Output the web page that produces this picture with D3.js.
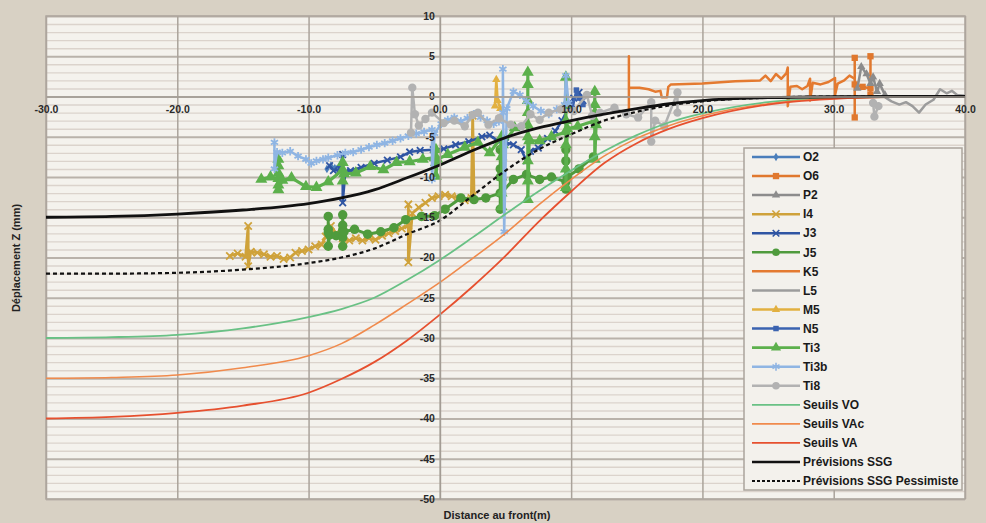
<!DOCTYPE html>
<html><head><meta charset="utf-8">
<script src="https://cdn.jsdelivr.net/npm/d3@7"></script>
<style>
html,body{margin:0;padding:0;background:#d8d1c4;}
svg{display:block;font-family:"Liberation Sans",Arial,sans-serif;}
</style></head><body>
<svg id="chart" width="986" height="523"></svg>
<script>
// ---- axis ticks ----
const xTicks = [-30, -20, -10, 0, 10, 20, 30, 40];
const yTicks = [10, 5, 0, -5, -10, -15, -20, -25, -30, -35, -40, -45, -50];
const yMinorTicks = [9,8,7,6,4,3,2,1,-1,-2,-3,-4,-6,-7,-8,-9,-11,-12,-13,-14,-16,-17,-18,-19,-21,-22,-23,-24,-26,-27,-28,-29,-31,-32,-33,-34,-36,-37,-38,-39,-41,-42,-43,-44,-46,-47,-48,-49];

// ---- forecast / threshold curves (distance m, displacement mm) ----
const curveX      = [-30, -25, -20, -15, -10, -7.5, -5, -2.5, 0, 2.5, 5, 7.5, 10, 12.5, 15, 17.5, 20, 25, 30, 35, 40];
const seuilsVO    = [-30, -29.9, -29.6, -28.8, -27.4, -26.4, -25, -22.8, -20.3, -17.5, -14.6, -11.8, -9.2, -6.8, -4.8, -3.2, -2.1, -0.7, -0.2, 0, 0];
const seuilsVAc   = [-35, -34.9, -34.6, -33.7, -32.2, -30.7, -28.4, -25.8, -23.1, -20.1, -17, -13.5, -10.3, -7.4, -5.2, -3.6, -2.4, -0.9, -0.25, -0.05, 0];
const seuilsVA    = [-40, -39.8, -39.3, -38.4, -36.8, -35.1, -33, -30.3, -27.1, -23.6, -19.8, -15.6, -11.8, -8.3, -5.8, -4, -2.7, -1, -0.3, -0.05, 0];
const previsSSG   = [-15, -14.9, -14.6, -14.1, -13.3, -12.6, -11.6, -10.1, -8.5, -6.7, -5.1, -3.9, -3.0, -2.2, -1.5, -0.9, -0.5, -0.15, -0.03, 0, 0];
const previsPess  = [-22, -22, -21.9, -21.5, -20.7, -20, -18.9, -17.1, -15.4, -12.3, -9.2, -6.6, -4.7, -3.0, -1.9, -1.1, -0.6, -0.15, 0, 0, 0];

// ---- measured settlements, [distance to face (m), Z (mm)] ----
const O2 = [[-8.6,-9.0],[-8.3,-8.6],[-8.0,-8.9],[-7.6,-8.5]];
const O6 = [[31.6,4.8],[31.6,-2.6],[31.6,1.5],[32.2,1.2],[32.8,1.0],[32.8,5.0],[32.8,0.2]];
const P2 = [[31.8,1.0],[32.1,3.7],[32.5,2.8],[32.8,1.6],[33.0,2.4],[33.3,0.6],[33.5,1.6],[33.9,0.2]];
const I4 = [[-16.0,-19.8],[-15.4,-19.5],[-14.8,-19.9],[-14.6,-16.1],[-14.6,-21.1],[-14.4,-19.3],[-13.9,-19.4],[-13.4,-19.6],[-12.9,-19.9],[-12.4,-19.8],[-11.9,-20.2],[-11.4,-20.0],[-11.0,-19.4],[-10.5,-19.2],[-10.0,-19.0],[-9.5,-18.6],[-9.0,-18.4],[-8.7,-17.4],[-8.3,-16.1],[-7.9,-17.0],[-7.4,-17.6],[-6.9,-17.9],[-6.4,-17.6],[-5.9,-17.9],[-5.4,-17.6],[-4.9,-17.8],[-4.4,-17.3],[-3.9,-17.0],[-3.4,-16.7],[-2.9,-16.4],[-2.4,-16.0],[-2.4,-13.4],[-2.4,-20.6],[-2.1,-14.5],[-1.6,-13.8],[-1.1,-13.2],[-0.6,-12.6],[-0.1,-12.4],[0.4,-12.2],[0.9,-12.4],[1.4,-12.6],[1.9,-12.9],[2.4,-12.6],[2.5,-2.4],[2.6,-12.2]];
const J3 = [[-8.4,-8.6],[-8.1,-9.2],[-7.6,-9.0],[-7.4,-7.2],[-7.4,-13.2],[-7.2,-9.4],[-6.8,-9.2],[-6.0,-8.8],[-5.0,-8.3],[-4.0,-7.9],[-3.0,-7.5],[-2.3,-6.9],[-1.5,-6.7],[-0.5,-6.6],[0.3,-6.5],[1.2,-6.0],[2.2,-5.6],[3.2,-5.0],[3.8,-4.8],[4.3,-5.4],[5.0,-5.7],[5.6,-6.0],[6.2,-6.6],[6.6,-8.0],[6.9,-6.8],[7.5,-6.4],[8.2,-5.2],[8.8,-4.3],[9.3,-3.0],[9.8,-1.4],[10.2,-0.2],[10.6,0.5],[10.9,-0.5]];
const J5 = [[-8.5,-16.9],[-8.5,-14.9],[-8.5,-16.5],[-8.5,-18.6],[-8.4,-17.2],[-7.9,-17.3],[-7.4,-16.6],[-7.4,-14.7],[-7.4,-16.0],[-7.4,-17.5],[-7.4,-18.6],[-7.3,-16.8],[-6.5,-16.5],[-5.5,-17.1],[-4.5,-16.8],[-3.5,-16.3],[-2.6,-15.3],[-1.4,-14.9],[-0.4,-14.8],[0.4,-14.0],[1.6,-12.6],[2.6,-12.8],[3.5,-12.6],[4.6,-12.0],[4.6,-9.0],[4.6,-6.6],[4.6,-10.0],[4.6,-14.0],[4.7,-12.0],[5.6,-10.3],[6.6,-9.7],[7.6,-10.3],[8.5,-10.0],[9.6,-10.6],[9.6,-8.0],[9.6,-6.6],[9.6,-11.5],[9.7,-10.0],[10.6,-9.0],[11.7,-7.5]];
const K5 = [[14.4,-1.6],[14.4,5.0],[14.4,1.1],[15.2,1.1],[15.9,0.9],[16.4,0.6],[16.8,0.7],[16.9,-0.1],[17.3,-0.1],[17.4,1.2],[17.6,1.5],[20.0,1.6],[22.5,1.9],[24.4,2.0],[24.8,2.6],[25.2,1.9],[25.6,2.8],[26.0,2.2],[26.4,2.9],[26.5,3.6],[26.5,-1.2],[26.7,1.2],[27.2,1.3],[27.6,0.9],[28.0,1.3],[28.2,2.2],[28.2,-0.5],[28.4,1.7],[29.0,1.5],[29.6,1.8],[30.1,2.3],[30.1,0.2],[30.3,1.6],[30.8,2.0],[31.2,2.6],[31.6,2.2]];
const L5 = [[33.9,-0.1],[34.4,-0.6],[35.0,-1.0],[35.5,-0.7],[36.0,-1.2],[36.5,-2.0],[37.0,-1.0],[37.6,-0.4],[38.1,0.9],[38.6,0.4],[39.0,0.7],[39.4,0.2],[40.0,0.1]];
const M5 = [[4.2,-1.2],[4.3,2.1],[4.4,-0.5],[4.6,-1.5]];
const N5 = [[10.1,-1.5],[10.4,0.8],[10.6,-0.2],[10.9,-1.0]];
const Ti3 = [[-13.6,-10.3],[-12.9,-10.0],[-12.3,-10.2],[-12.3,-8.6],[-12.3,-7.8],[-12.3,-9.5],[-12.3,-11.0],[-12.3,-11.6],[-12.0,-10.4],[-11.3,-10.1],[-10.2,-11.2],[-9.4,-11.3],[-8.5,-10.6],[-7.4,-9.1],[-7.4,-8.2],[-7.4,-10.5],[-7.3,-9.6],[-6.4,-9.5],[-5.3,-8.7],[-4.3,-9.1],[-3.3,-8.2],[-2.3,-8.1],[-1.3,-7.8],[-0.4,-7.6],[-0.3,-6.6],[-0.3,-8.2],[-0.3,-9.9],[-0.2,-7.8],[0.6,-7.2],[1.9,-6.3],[2.9,-5.7],[3.8,-7.0],[4.7,-5.0],[4.7,-7.5],[4.7,-10.0],[4.7,-12.0],[4.7,-13.7],[4.8,-6.0],[5.7,-3.9],[6.7,-3.5],[6.7,-0.5],[6.7,1.5],[6.7,3.0],[6.7,-2.0],[6.7,-5.0],[6.7,-8.0],[6.7,-10.5],[6.7,-12.8],[6.8,-5.5],[7.6,-5.5],[8.5,-5.0],[9.6,-4.4],[9.6,-1.0],[9.6,2.4],[9.6,-3.0],[9.6,-6.0],[9.6,-9.0],[9.6,-11.3],[9.7,-4.0],[10.5,-3.7],[11.8,-3.0],[11.8,-1.0],[11.8,0.6],[11.8,-2.0],[11.8,-5.0],[11.8,-7.8],[11.9,-3.5]];
const Ti3b = [[-12.6,-5.7],[-12.6,-9.0],[-12.4,-6.9],[-12.0,-7.0],[-11.4,-6.8],[-10.8,-7.4],[-10.2,-7.8],[-9.8,-8.3],[-9.4,-8.0],[-8.9,-7.8],[-8.5,-7.6],[-7.8,-7.3],[-7.2,-7.0],[-6.6,-6.9],[-6.0,-6.6],[-5.4,-6.3],[-4.8,-6.0],[-4.2,-5.8],[-3.6,-5.5],[-3.0,-5.2],[-2.4,-4.9],[-1.8,-4.6],[-1.2,-4.4],[-0.6,-4.1],[-0.6,-10.3],[-0.4,-4.6],[0.1,-3.4],[0.6,-2.9],[1.1,-2.6],[1.6,-3.1],[2.1,-2.7],[2.6,-2.2],[3.1,-2.6],[3.6,-3.0],[4.1,-3.4],[4.5,-3.1],[4.8,-2.0],[4.8,3.4],[4.9,-16.8],[5.1,-1.5],[5.6,0.6],[6.1,0.2],[6.6,-0.6],[7.1,-1.2],[7.7,-1.8],[8.3,-2.2],[8.9,-1.6],[9.5,-1.0],[9.6,2.6],[9.8,-0.8]];
const Ti8 = [[-2.2,-4.5],[-2.1,1.1],[-1.9,-2.2],[-1.6,-3.6],[-1.1,-2.8],[-0.6,-2.0],[0.3,-3.3],[1.1,-3.0],[1.9,-3.7],[2.5,-2.3],[2.9,-2.0],[3.7,-3.5],[4.5,-2.7],[5.4,-3.5],[6.2,-3.7],[6.9,-2.2],[7.6,-2.9],[8.3,-2.0],[9.2,-1.6],[10.2,-1.8],[11.2,0.2],[11.6,-2.4],[12.2,-2.0],[13.3,-1.4],[14.2,-2.2],[15.1,-2.6],[16.1,-0.7],[16.1,-5.6],[16.4,-3.0],[17.1,-3.7],[18.1,0.5],[18.1,-2.0],null,[33.0,-0.8],[33.1,-2.5],[33.4,-1.2]];

// ---- drawing styles per series ----
const measured = [
  {name:"O2",   data:O2,   color:"#4a7ebb", width:2.5, sym:d3.symbolDiamond,  size:22, stroke:false},
  {name:"O6",   data:O6,   color:"#e0782e", width:2.5, sym:d3.symbolSquare,   size:40, stroke:false},
  {name:"P2",   data:P2,   color:"#8c8c8c", width:2.5, sym:d3.symbolTriangle, size:30, stroke:false},
  {name:"I4",   data:I4,   color:"#cfa23a", width:2.8, sym:d3.symbolTimes,    size:36, stroke:true},
  {name:"J3",   data:J3,   color:"#2f55a3", width:2.5, sym:d3.symbolTimes,    size:30, stroke:true},
  {name:"J5",   data:J5,   color:"#4f9b3d", width:3,   sym:d3.symbolCircle,   size:70, stroke:false},
  {name:"K5",   data:K5,   color:"#e47a30", width:2.5, sym:null},
  {name:"L5",   data:L5,   color:"#9c9c9c", width:2.5, sym:null},
  {name:"M5",   data:M5,   color:"#e2b040", width:2.5, sym:d3.symbolTriangle, size:30, stroke:false},
  {name:"N5",   data:N5,   color:"#3b63b0", width:2.5, sym:d3.symbolSquare,   size:30, stroke:false},
  {name:"Ti3",  data:Ti3,  color:"#5cb04c", width:3.2, sym:d3.symbolTriangle, size:62, stroke:false},
  {name:"Ti3b", data:Ti3b, color:"#8fb5e3", width:2.5, sym:d3.symbolAsterisk, size:48, stroke:true},
  {name:"Ti8",  data:Ti8,  color:"#b2b2b2", width:2.5, sym:d3.symbolCircle,   size:55, stroke:false}
];
const curves = [
  {name:"Seuils VO",  values:seuilsVO,   color:"#69c185", width:1.8, dash:null},
  {name:"Seuils VAc", values:seuilsVAc,  color:"#f08a4c", width:1.6, dash:null},
  {name:"Seuils VA",  values:seuilsVA,   color:"#e6502f", width:1.8, dash:null},
  {name:"Prévisions SSG", values:previsSSG, color:"#111111", width:2.8, dash:null},
  {name:"Prévisions SSG Pessimiste", values:previsPess, color:"#111111", width:2.2, dash:"4,3"}
];

const W = 986, H = 523;
const x = d3.scaleLinear().domain([-30, 40]).range([46, 965]);
const y = d3.scaleLinear().domain([-50, 10]).range([499, 16]);
const plotW = x(40) - x(-30);

const svg = d3.select("#chart");
svg.append("rect").attr("width", W).attr("height", H).attr("fill", "#d8d1c4");
svg.append("rect").attr("x", x(-30)).attr("y", y(10))
  .attr("width", plotW).attr("height", y(-50) - y(10)).attr("fill", "#f4f2ed");

// minor horizontal grid (1 mm)
const gMinor = svg.append("g").attr("transform", `translate(${x(-30)},0)`)
  .call(d3.axisLeft(y).tickValues(yMinorTicks).tickSize(-plotW).tickFormat(""));
gMinor.select(".domain").remove();
gMinor.selectAll(".tick line").attr("stroke", "#dbd3cc").attr("stroke-width", 1.4);

// major horizontal grid (5 mm)
const gMajor = svg.append("g").attr("transform", `translate(${x(-30)},0)`)
  .call(d3.axisLeft(y).tickValues(yTicks).tickSize(-plotW).tickFormat(""));
gMajor.select(".domain").remove();
gMajor.selectAll(".tick line").attr("stroke", "#b9b2aa").attr("stroke-width", 2);

// vertical grid (10 m)
const gVert = svg.append("g").attr("transform", `translate(0,${y(-50)})`)
  .call(d3.axisBottom(x).tickValues(xTicks).tickSize(-(y(-50) - y(10))).tickFormat(""));
gVert.select(".domain").remove();
gVert.selectAll(".tick line").attr("stroke", "#aaa39b").attr("stroke-width", 1.5);

// plot frame
svg.append("rect").attr("x", x(-30)).attr("y", y(10))
  .attr("width", plotW).attr("height", y(-50) - y(10))
  .attr("fill", "none").attr("stroke", "#aea79f").attr("stroke-width", 1.5);

// measured series
const line = d3.line().defined(d => d !== null).x(d => x(d[0])).y(d => y(d[1]));
const gData = svg.append("g");
measured.forEach(s => {
  gData.append("path").attr("d", line(s.data)).attr("fill", "none")
    .attr("stroke", s.color).attr("stroke-width", s.width)
    .attr("stroke-linejoin", "round");
  if (s.sym) {
    const sym = d3.symbol().type(s.sym).size(s.size);
    gData.append("g").selectAll("path").data(s.data.filter(d => d !== null)).join("path")
      .attr("d", sym)
      .attr("transform", d => `translate(${x(d[0])},${y(d[1])})`)
      .attr("fill", s.stroke ? "none" : s.color)
      .attr("stroke", s.stroke ? s.color : "none")
      .attr("stroke-width", s.stroke ? 1.8 : 0);
  }
});

// thresholds and forecasts
const cline = d3.line().curve(d3.curveMonotoneX).x(d => x(d[0])).y(d => y(d[1]));
curves.forEach(c => {
  const pts = curveX.map((v, i) => [v, c.values[i]]);
  svg.append("path").attr("d", cline(pts)).attr("fill", "none")
    .attr("stroke", c.color).attr("stroke-width", c.width)
    .attr("stroke-dasharray", c.dash);
});

// axes crossing at the origin
const yAxis = svg.append("g").attr("transform", `translate(${x(0)},0)`)
  .call(d3.axisLeft(y).tickValues(yTicks).tickSize(0).tickPadding(5).tickFormat(d => String(d)));
yAxis.select(".domain").attr("stroke", "#a39c94").attr("stroke-width", 1.5);
yAxis.selectAll("text").attr("font-size", 10.5).attr("font-weight", "bold").attr("fill", "#2a2a2a")
  .attr("font-family", "Liberation Sans, Arial, sans-serif");

const xAxis = svg.append("g").attr("transform", `translate(0,${y(0)})`)
  .call(d3.axisBottom(x).tickValues(xTicks).tickSize(0).tickPadding(9).tickFormat(d => d.toFixed(1)));
xAxis.select(".domain").attr("stroke", "#a39c94").attr("stroke-width", 1.5);
xAxis.selectAll("text").attr("font-size", 10.5).attr("font-weight", "bold").attr("fill", "#2a2a2a")
  .attr("font-family", "Liberation Sans, Arial, sans-serif");

// axis titles
svg.append("text").attr("transform", "translate(20,258) rotate(-90)")
  .attr("text-anchor", "middle").attr("font-size", 11).attr("font-weight", "bold")
  .attr("fill", "#222").text("Déplacement Z (mm)");
svg.append("text").attr("x", 497).attr("y", 519)
  .attr("text-anchor", "middle").attr("font-size", 11).attr("font-weight", "bold")
  .attr("fill", "#222").text("Distance au front(m)");

// legend
const lg = svg.append("g");
lg.append("rect").attr("x", 744).attr("y", 148).attr("width", 218).attr("height", 342)
  .attr("fill", "#f3f1ec").attr("stroke", "#aba49c").attr("stroke-width", 1.5);
const entries = measured.concat(curves.map(c => ({...c, sym: null})));
entries.forEach((e, i) => {
  const ly = 157 + i * 19.06;
  lg.append("line").attr("x1", 752).attr("x2", 800).attr("y1", ly).attr("y2", ly)
    .attr("stroke", e.color).attr("stroke-width", e.dash ? 2 : Math.min(e.width, 2.6))
    .attr("stroke-dasharray", e.dash ? "3,2" : null);
  if (e.sym) {
    lg.append("path").attr("d", d3.symbol().type(e.sym).size(Math.min(e.size, 45)))
      .attr("transform", `translate(776,${ly})`)
      .attr("fill", e.stroke ? "none" : e.color)
      .attr("stroke", e.stroke ? e.color : "none").attr("stroke-width", e.stroke ? 1.6 : 0);
  }
  lg.append("text").attr("x", 803).attr("y", ly).attr("dy", "0.35em")
    .attr("font-size", 12).attr("font-weight", "bold").attr("fill", "#1a1a1a")
    .text(e.name);
});
</script>
</body></html>
